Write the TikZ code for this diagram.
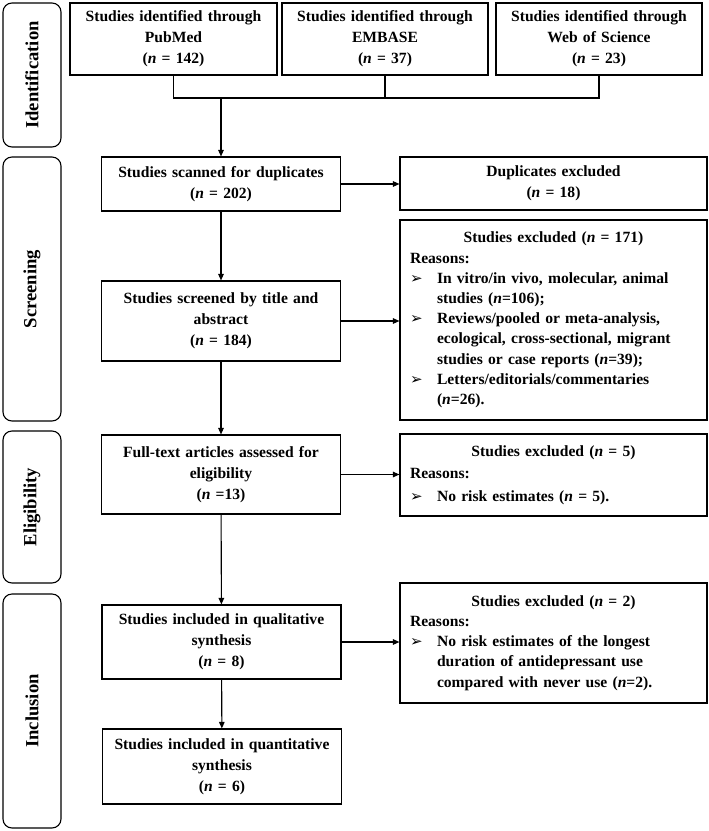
\documentclass[tikz,border=0pt]{standalone}
\usepackage{fontspec}
\setmainfont{Liberation Serif}
\newfontfamily\symfont{DejaVu Sans}
\usetikzlibrary{arrows.meta}
\newcommand{\nn}{\textit{n}}
\newcommand{\bul}{\makebox[27pt][l]{{\symfont\fontsize{15}{15}\selectfont ➢}}}
\newcommand{\ind}{\hspace*{27pt}}
\begin{document}
\begin{tikzpicture}[x=1pt,y=-1pt,
  every node/.style={font=\fontsize{15.6}{21}\selectfont\bfseries},
  box/.style={draw, line width=1.1pt, rectangle, align=center, inner sep=0pt},
  mainbox/.style={box, minimum width=239pt, text width=235pt},
  exbox/.style={box, minimum width=307pt, text width=287pt, align=left},
  phase/.style={draw, line width=1.1pt, rounded corners=9pt, minimum width=58pt, inner sep=0pt,
     font=\fontsize{18.6}{20}\selectfont\bfseries},
  link/.style={line width=1.1pt},
  arr/.style={link, -{Triangle[length=6.5pt,width=5.5pt]}}]
\useasboundingbox (0,0) rectangle (709,831);
% phase labels
\node[phase, minimum height=144pt] (pid) at (32,75) {\rotatebox{90}{Identification}};
\node[phase, minimum height=264pt] (pscr) at (32,289) {\rotatebox{90}{Screening}};
\node[phase, minimum height=152pt] (pel) at (32,507) {\rotatebox{90}{Eligibility}};
\node[phase, minimum height=234pt] (pinc) at (32,711) {\rotatebox{90}{Inclusion}};
% identification
\node[box, minimum width=207pt, minimum height=72pt, text width=203pt] (pub) at (173.5,39)
  {Studies identified through\\PubMed\\(\nn{} = 142)};
\node[box, minimum width=206pt, minimum height=72pt, text width=202pt] (emb) at (385,39)
  {Studies identified through\\EMBASE\\(\nn{} = 37)};
\node[box, minimum width=206pt, minimum height=72pt, text width=202pt] (wos) at (599,39)
  {Studies identified through\\Web of Science\\(\nn{} = 23)};
% main column
\node[mainbox, minimum height=54pt] (scan) at (221,184)
  {Studies scanned for duplicates\\(\nn{} = 202)};
\node[mainbox, minimum height=80pt] (scr) at (221,321)
  {Studies screened by title and\\abstract\\(\nn{} = 184)};
\node[mainbox, minimum height=79pt] (full) at (221,474.5)
  {Full-text articles assessed for\\eligibility\\(\nn{} =13)};
\node[mainbox, minimum height=74pt] (qual) at (221.5,642)
  {Studies included in qualitative\\synthesis\\(\nn{} = 8)};
\node[mainbox, minimum height=75pt] (quant) at (222,766.5)
  {Studies included in quantitative\\synthesis\\(\nn{} = 6)};
% excluded column
\node[box, minimum width=307pt, minimum height=53pt, text width=287pt] (dup) at (553.5,183.5)
  {Duplicates excluded\\(\nn{} = 18)};
\node[exbox, minimum height=200pt, font=\fontsize{15.6}{20.2}\selectfont\bfseries] (ex1) at (553.5,320)
  {\makebox[287pt][c]{Studies excluded (\nn{} = 171)}\\
   Reasons:\\
   \bul In vitro/in vivo, molecular, animal\\
   \ind studies (\nn{}=106);\\
   \bul Reviews/pooled or meta-analysis,\\
   \ind ecological, cross-sectional, migrant\\
   \ind studies or case reports (\nn{}=39);\\
   \bul Letters/editorials/commentaries\\
   \ind (\nn{}=26).};
\node[exbox, minimum height=82pt, font=\fontsize{15.6}{22.5}\selectfont\bfseries] (ex2) at (553.5,475)
  {\makebox[287pt][c]{Studies excluded (\nn{} = 5)}\\
   Reasons:\\
   \bul No risk estimates (\nn{} = 5).};
\node[exbox, minimum height=120pt, font=\fontsize{15.6}{20.2}\selectfont\bfseries] (ex3) at (553.5,643)
  {\makebox[287pt][c]{Studies excluded (\nn{} = 2)}\\
   Reasons:\\
   \bul No risk estimates of the longest\\
   \ind duration of antidepressant use\\
   \ind compared with never use (\nn{}=2).};
% connectors
\coordinate (j) at (221,98);
\draw[link] (pub.south) |- (j) -| (wos.south);
\draw[link] (emb.south) -- (emb.south |- j);
\draw[arr] (j) -- (scan.north);
\draw[arr] (scan) -- (scr);
\draw[arr] (scr) -- (full);
\draw[arr] (full) -- (qual);
\draw[arr] (qual) -- (quant);
\draw[arr] (scan.east) -- (scan.east -| dup.west);
\draw[arr] (scr.east) -- (scr.east -| ex1.west);
\draw[arr] (full.east) -- (full.east -| ex2.west);
\draw[arr] (qual.east) -- (qual.east -| ex3.west);
\end{tikzpicture}
\end{document}
